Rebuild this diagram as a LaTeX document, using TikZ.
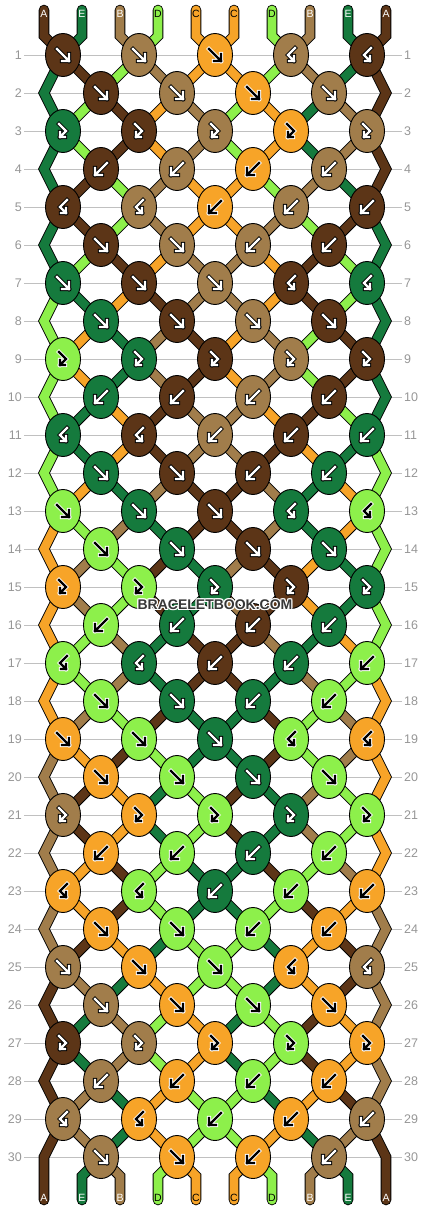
\documentclass[tikz,border=0pt]{standalone}
\usepackage{fontspec}
\setmainfont{Liberation Sans}
\usetikzlibrary{shapes.geometric}

\definecolor{colA}{RGB}{92,53,23}
\definecolor{colE}{RGB}{21,122,61}
\definecolor{colB}{RGB}{161,125,75}
\definecolor{colD}{RGB}{141,240,75}
\definecolor{colC}{RGB}{247,164,40}
\definecolor{rowgray}{RGB}{192,192,192}
\definecolor{numgray}{RGB}{150,150,150}
\definecolor{markgray}{RGB}{55,55,55}

\pgfdeclarelayer{grid}
\pgfdeclarelayer{threads}
\pgfsetlayers{grid,threads,main}

\newcommand\knotglyph[1]{%
  \begin{scope}[shift={(path picture bounding box.center)}]
    \draw[glyphbg, line width=4.2pt, line cap=rect] #1;
    \draw[glyphfg, line width=2.2pt, line cap=rect] #1;
  \end{scope}}

\begin{document}
\begin{tikzpicture}[
    x=1pt, y=-1pt,
    knot/.style={ellipse, draw=black, line width=0.9pt, minimum width=35pt, minimum height=43pt, inner sep=0pt},
    light glyph/.style={/utils/exec={\colorlet{glyphfg}{white}\colorlet{glyphbg}{black}}},
    dark glyph/.style={/utils/exec={\colorlet{glyphfg}{black}\colorlet{glyphbg}{white}}},
    cA/.style={fill=colA, light glyph},
    cE/.style={fill=colE, light glyph},
    cB/.style={fill=colB, light glyph},
    cD/.style={fill=colD, dark glyph},
    cC/.style={fill=colC, dark glyph},
    kf/.style={path picture={\knotglyph{(-6,-6) -- (6,6) (6,-1) -- (6,6) -- (-1,6)}}},
    kb/.style={path picture={\knotglyph{(6,-6) -- (-6,6) (-6,-1) -- (-6,6) -- (1,6)}}},
    kfb/.style={path picture={\knotglyph{(-4,-7) -- (3,0) -- (-3,6) (-3,1) -- (-3,6) -- (2,6)}}},
    kbf/.style={path picture={\knotglyph{(4,-7) -- (-3,0) -- (3,6) (3,1) -- (3,6) -- (-2,6)}}},
    thread/.style={draw=black, line width=0.9pt, double=#1, double distance=8.8pt, line cap=round, line join=miter},
    strlabel/.style={font=\fontsize{10.5}{12}\selectfont, inner sep=0pt},
    rownum/.style={font=\fontsize{12.5}{14}\selectfont, text=numgray, inner sep=2pt},
    rowline/.style={draw=rowgray, line width=0.9pt},
    mark halo/.style={font=\bfseries\fontsize{14}{16}\selectfont, text=white, inner sep=0pt},
    mark text/.style={font=\bfseries\fontsize{14}{16}\selectfont, text=markgray, inner sep=0pt}
]
\useasboundingbox (0,0) rectangle (430,1212);

% Row numbers and guide lines
\begin{pgfonlayer}{grid}
\foreach \rw in {1,...,30} {
  \node[rownum, anchor=east] (rl-\rw) at (24, 17+38*\rw) {\rw};
  \node[rownum, anchor=west] (rr-\rw) at (402, 17+38*\rw) {\rw};
  \draw[rowline] (rl-\rw.east) -- (rr-\rw.west);
}
\end{pgfonlayer}

% Thread ends and edge turns
\foreach \sp in {1,...,10} {
  \coordinate (tt-\sp) at (6+38*\sp, 10);
  \coordinate (t-\sp) at (6+38*\sp, 36);
  \coordinate (bt-\sp) at (6+38*\sp, 1176);
  \coordinate (bb-\sp) at (6+38*\sp, 1200);
}
\foreach \rw in {2,4,...,30} {
  \coordinate (eL-\rw) at (44, 17+38*\rw);
  \coordinate (eR-\rw) at (386, 17+38*\rw);
}

% Knots, row by row (colour/type)
\foreach \row [count=\rw] in {
    {A/f,B/f,C/f,B/bf,A/bf}, {A/f,B/f,C/f,B/f},
    {E/fb,A/fb,B/fb,C/fb,B/fb}, {A/b,B/b,C/b,B/b},
    {A/bf,B/bf,C/b,B/b,A/b}, {A/f,B/f,B/b,A/b},
    {E/f,A/f,B/f,A/bf,E/bf}, {E/f,A/f,B/f,A/f},
    {D/fb,E/fb,A/fb,B/fb,A/fb}, {E/b,A/b,B/b,A/b},
    {E/bf,A/bf,B/b,A/b,E/b}, {E/f,A/f,A/b,E/b},
    {D/f,E/f,A/f,E/bf,D/bf}, {D/f,E/f,A/f,E/f},
    {C/fb,D/fb,E/fb,A/fb,E/fb}, {D/b,E/b,A/b,E/b},
    {D/bf,E/bf,A/b,E/b,D/b}, {D/f,E/f,E/b,D/b},
    {C/f,D/f,E/f,D/bf,C/bf}, {C/f,D/f,E/f,D/f},
    {B/fb,C/fb,D/fb,E/fb,D/fb}, {C/b,D/b,E/b,D/b},
    {C/bf,D/bf,E/b,D/b,C/b}, {C/f,D/f,D/b,C/b},
    {B/f,C/f,D/f,C/bf,B/bf}, {B/f,C/f,D/f,C/f},
    {A/fb,B/fb,C/fb,D/fb,C/fb}, {B/b,C/b,D/b,C/b},
    {B/bf,C/bf,D/b,C/b,B/b}, {B/f,C/f,C/b,B/b}} {
  \foreach \kc/\kt [count=\ki] in \row {
    \ifodd\rw
      \pgfmathsetmacro\kx{-13+76*\ki}
    \else
      \pgfmathsetmacro\kx{25+76*\ki}
    \fi
    \node[knot, c\kc, k\kt] (k-\rw-\ki) at (\kx, 17+38*\rw) {};
  }
}

% Threads
\begin{pgfonlayer}{threads}
\foreach \tc [count=\sp] in {A,E,B,D,C,C,D,B,E,A} {
  \pgfmathtruncatemacro\ki{(\sp+1)/2}
  \draw[thread=col\tc] (tt-\sp) -- (t-\sp) -- (k-1-\ki.center);
}
\foreach \st [count=\rw] in {
    {E,A,D,B,C,C,D,B,E,A}, {E,D,A,C,B,D,C,E,B,A}, {E,D,A,C,B,D,C,E,B,A},
    {E,A,D,B,C,C,D,B,E,A}, {E,A,D,B,C,C,B,D,A,E}, {E,D,A,C,B,B,C,A,D,E},
    {D,E,C,A,B,B,C,A,D,E}, {D,C,E,B,A,C,B,D,A,E}, {D,C,E,B,A,C,B,D,A,E},
    {D,E,C,A,B,B,C,A,D,E}, {D,E,C,A,B,B,A,C,E,D}, {D,C,E,B,A,A,B,E,C,D},
    {C,D,B,E,A,A,B,E,C,D}, {C,B,D,A,E,B,A,C,E,D}, {C,B,D,A,E,B,A,C,E,D},
    {C,D,B,E,A,A,B,E,C,D}, {C,D,B,E,A,A,E,B,D,C}, {C,B,D,A,E,E,A,D,B,C},
    {B,C,A,D,E,E,A,D,B,C}, {B,A,C,E,D,A,E,B,D,C}, {B,A,C,E,D,A,E,B,D,C},
    {B,C,A,D,E,E,A,D,B,C}, {B,C,A,D,E,E,D,A,C,B}, {B,A,C,E,D,D,E,C,A,B},
    {A,B,E,C,D,D,E,C,A,B}, {A,E,B,D,C,E,D,A,C,B}, {A,E,B,D,C,E,D,A,C,B},
    {A,B,E,C,D,D,E,C,A,B}, {A,B,E,C,D,D,C,E,B,A}} {
  \pgfmathtruncatemacro\nr{\rw+1}
  \pgfmathtruncatemacro\nnr{\rw+2}
  \foreach \tc [count=\sp] in \st {
    \ifodd\rw
      \pgfmathtruncatemacro\si{(\sp+1)/2}
      \pgfmathtruncatemacro\ei{\sp/2}
      \ifnum\sp=1
        \ifnum\rw<29
          \draw[thread=col\tc] (k-\rw-1.center) -- (eL-\nr) -- (k-\nnr-1.center);
        \else
          \draw[thread=col\tc] (k-\rw-1.center) -- (eL-\nr) -- (bb-1);
        \fi
      \else\ifnum\sp=10
        \ifnum\rw<29
          \draw[thread=col\tc] (k-\rw-5.center) -- (eR-\nr) -- (k-\nnr-5.center);
        \else
          \draw[thread=col\tc] (k-\rw-5.center) -- (eR-\nr) -- (bb-10);
        \fi
      \else
        \draw[thread=col\tc] (k-\rw-\si.center) -- (k-\nr-\ei.center);
      \fi\fi
    \else
      \ifnum\sp>1 \ifnum\sp<10
        \pgfmathtruncatemacro\si{\sp/2}
        \pgfmathtruncatemacro\ei{(\sp+1)/2}
        \draw[thread=col\tc] (k-\rw-\si.center) -- (k-\nr-\ei.center);
      \fi\fi
    \fi
  }
}
\foreach \tc [count=\sp] in {A,E,B,D,C,C,D,B,E,A} {
  \ifnum\sp>1 \ifnum\sp<10
    \pgfmathtruncatemacro\ki{\sp/2}
    \draw[thread=col\tc] (k-30-\ki.center) -- (bt-\sp) -- (bb-\sp);
  \fi\fi
}
\end{pgfonlayer}

% Thread letters
\foreach \tc/\lc [count=\sp] in {A/white,E/white,B/white,D/black,C/black,C/black,D/black,B/white,E/white,A/white} {
  \node[strlabel, text=\lc] (lt-\sp) at (6+38*\sp, 13.5) {\tc};
  \node[strlabel, text=\lc] (lb-\sp) at (6+38*\sp, 1198) {\tc};
}

% Watermark
\foreach \dx/\dy [count=\h] in {1/0,-1/0,0/1,0/-1,1/1,-1/-1,1/-1,-1/1} {
  \node[mark halo] (wm-\h) at (215+\dx, 605+\dy) {BRACELETBOOK.COM};
}
\node[mark text] (wm) at (215, 605) {BRACELETBOOK.COM};

\end{tikzpicture}
\end{document}
